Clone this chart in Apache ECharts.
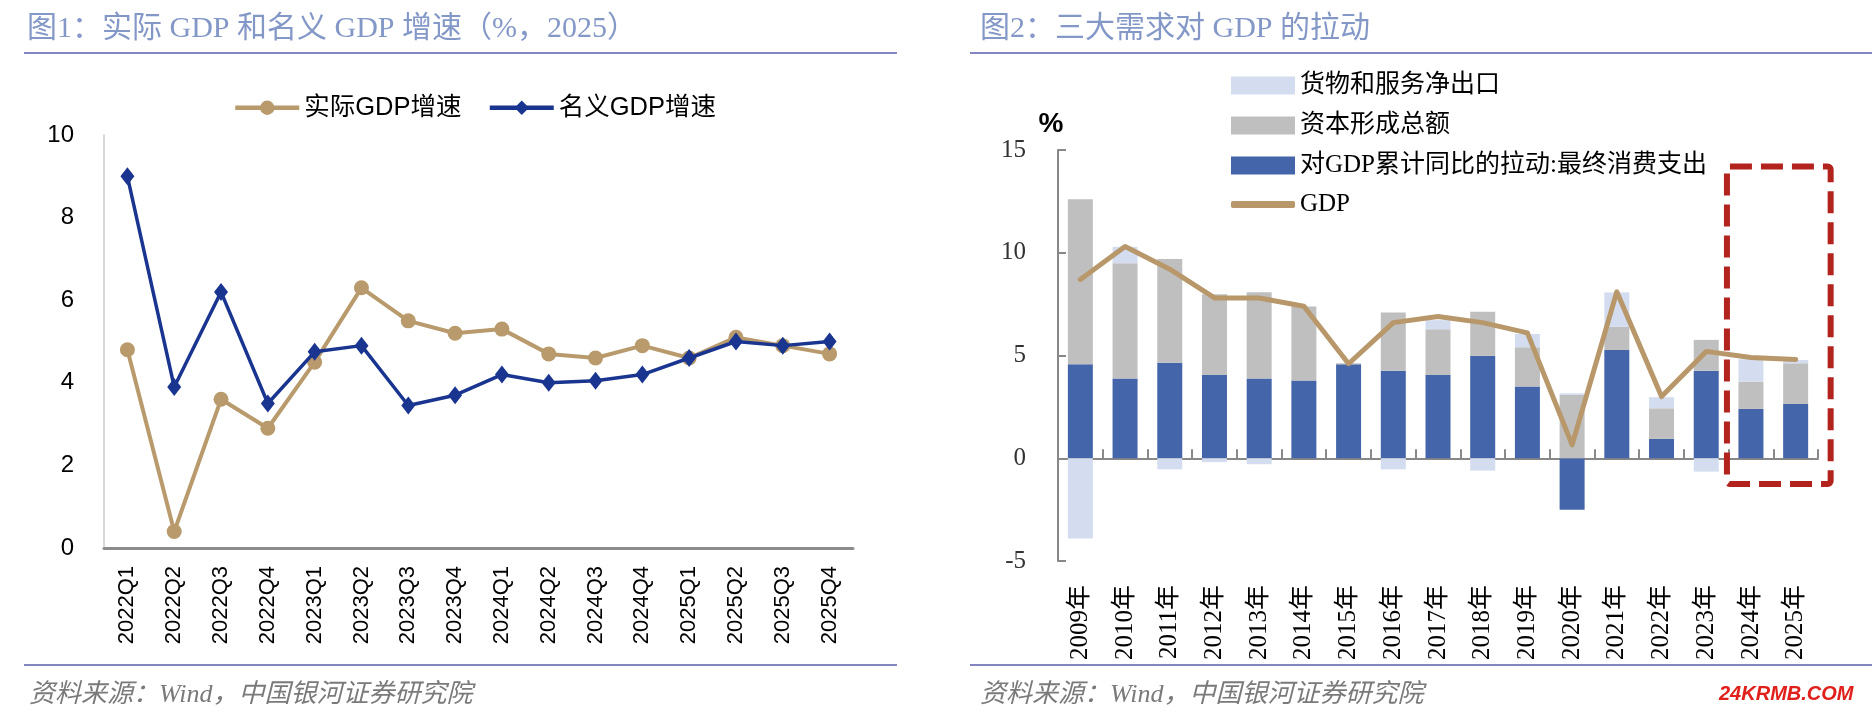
<!DOCTYPE html>
<html><head><meta charset="utf-8">
<script src="https://cdn.jsdelivr.net/npm/echarts@6/dist/echarts.min.js"></script>
<style>html,body{margin:0;padding:0;background:#fff}#c{width:1872px;height:722px}</style>
</head><body><div id="c"></div>
<script>
// ---- Figure 1 data ----
const quarters = ['2022Q1','2022Q2','2022Q3','2022Q4','2023Q1','2023Q2','2023Q3','2023Q4','2024Q1','2024Q2','2024Q3','2024Q4','2025Q1','2025Q2','2025Q3','2025Q4'];
const realGDP    = [4.8, 0.4, 3.6, 2.9, 4.5, 6.3, 5.5, 5.2, 5.3, 4.7, 4.6, 4.9, 4.6, 5.1, 4.9, 4.7];
const nominalGDP = [9.0, 3.9, 6.2, 3.5, 4.75, 4.9, 3.45, 3.7, 4.2, 4.0, 4.05, 4.2, 4.6, 5.0, 4.9, 5.0];

// ---- Figure 2 data ----
const years = ['2009年','2010年','2011年','2012年','2013年','2014年','2015年','2016年','2017年','2018年','2019年','2020年','2021年','2022年','2023年','2024年','2025年'];
const consumption = [4.57, 3.88, 4.65, 4.05, 3.88, 3.78, 4.57, 4.26, 4.05, 4.99, 3.49, -2.51, 5.27, 0.94, 4.26, 2.40, 2.64];
const capital     = [8.03, 5.61, 5.05, 3.93, 4.20, 3.60, 0.05, 2.83, 2.23, 2.14, 1.91, 3.08, 1.13, 1.49, 1.50, 1.33, 1.98];
const netExport   = [-3.9, 0.80, -0.54, -0.19, -0.29, 0.03, 0.0, -0.54, 0.44, -0.60, 0.65, 0.08, 1.67, 0.54, -0.65, 1.09, 0.16];
const gdp         = [8.7, 10.3, 9.2, 7.8, 7.8, 7.4, 4.6, 6.6, 6.9, 6.6, 6.1, 0.65, 8.1, 3.0, 5.2, 4.9, 4.8];

// highlight box (annotation) covering these categories and value range
const boxYears = ['2024年', '2025年'];
const boxRange = [14.2, -1.25];

const serif = "'Liberation Serif','Noto Sans CJK SC',serif";
const sans = "'Liberation Sans','Noto Sans CJK SC',sans-serif";
const TAN = '#B89A6C', NAVY = '#1A3590';

const chart = echarts.init(document.getElementById('c'), null, {renderer: 'canvas'});
const option = {
  backgroundColor: '#fff',
  animation: false,
  title: [
    {text: '图1：实际 GDP 和名义 GDP 增速（%，2025）', left: 22, top: 9,
     textStyle: {fontFamily: serif, fontSize: 30, fontWeight: 'normal', color: '#8498C8'}},
    {text: '图2：三大需求对 GDP 的拉动', left: 975, top: 9,
     textStyle: {fontFamily: serif, fontSize: 30, fontWeight: 'normal', color: '#8498C8'}},
    {text: '资料来源：Wind，中国银河证券研究院', left: 24, top: 677,
     textStyle: {fontFamily: serif, fontSize: 26, fontWeight: 'normal', fontStyle: 'italic', color: '#7A7A7A'}},
    {text: '资料来源：Wind，中国银河证券研究院', left: 975, top: 677,
     textStyle: {fontFamily: serif, fontSize: 26, fontWeight: 'normal', fontStyle: 'italic', color: '#7A7A7A'}}
  ],
  legend: [
    {data: ['实际GDP增速', '名义GDP增速'], left: 228, top: 90, orient: 'horizontal',
     itemWidth: 64, itemHeight: 18, itemGap: 26, lineStyle: {width: 4.5},
     textStyle: {fontFamily: sans, fontSize: 25.5, color: '#000'}},
    {data: [{name: '货物和服务净出口', icon: 'rect'}, {name: '资本形成总额', icon: 'rect'},
            {name: '对GDP累计同比的拉动:最终消费支出', icon: 'rect'}],
     left: 1226, top: 68, orient: 'vertical', itemWidth: 64, itemHeight: 18, itemGap: 15,
     textStyle: {fontFamily: serif, fontSize: 25, color: '#000'}},
    {data: [{name: 'GDP', icon: 'roundRect'}],
     left: 1226, top: 187, orient: 'vertical', itemWidth: 64, itemHeight: 7,
     textStyle: {fontFamily: serif, fontSize: 25, color: '#000'}}
  ],
  grid: [
    {left: 104, top: 135, width: 749, height: 413, containLabel: false},
    {left: 1058, top: 150, width: 760, height: 411, containLabel: false}
  ],
  xAxis: [
    {type: 'category', gridIndex: 0, data: quarters, boundaryGap: true,
     axisLine: {lineStyle: {color: '#8C8C8C', width: 3}}, axisTick: {show: false},
     axisLabel: {rotate: 90, margin: 18, fontFamily: sans, fontSize: 22, color: '#000'}},
    {type: 'category', gridIndex: 1, data: years, boundaryGap: true, position: 'bottom',
     axisLine: {show: false, onZero: false}, axisTick: {show: false},
     axisLabel: {rotate: 90, margin: 24, fontFamily: serif, fontSize: 25, color: '#000'}},
    {type: 'category', gridIndex: 1, data: years, boundaryGap: true, position: 'bottom',
     axisLine: {show: true, onZero: true, lineStyle: {color: '#888', width: 2}},
     axisTick: {show: true, inside: true, length: 9, interval: 0, lineStyle: {color: '#888', width: 2}},
     axisLabel: {show: false}}
  ],
  yAxis: [
    {type: 'value', gridIndex: 0, min: 0, max: 10, interval: 2,
     axisLine: {show: true, lineStyle: {color: '#D9D9D9', width: 2}}, axisTick: {show: false},
     splitLine: {show: false},
     axisLabel: {margin: 30, fontFamily: sans, fontSize: 24, color: '#000'}},
    {type: 'value', gridIndex: 1, min: -5, max: 15, interval: 5,
     name: '%', nameLocation: 'end', nameGap: 12,
     nameTextStyle: {fontFamily: sans, fontSize: 28, fontWeight: 'bold', color: '#000', padding: [0, 14, 0, 0]},
     axisLine: {show: true, lineStyle: {color: '#888', width: 2}},
     axisTick: {show: true, inside: true, length: 8, lineStyle: {color: '#888', width: 2}},
     splitLine: {show: false},
     axisLabel: {margin: 32, fontFamily: serif, fontSize: 25, color: '#333'}}
  ],
  series: [
    {name: '实际GDP增速', type: 'line', xAxisIndex: 0, yAxisIndex: 0, data: realGDP,
     symbol: 'circle', symbolSize: 15, lineStyle: {color: TAN, width: 4},
     itemStyle: {color: TAN}, z: 3},
    {name: '名义GDP增速', type: 'line', xAxisIndex: 0, yAxisIndex: 0, data: nominalGDP,
     symbol: 'diamond', symbolSize: [14, 18], lineStyle: {color: NAVY, width: 3.5},
     itemStyle: {color: NAVY}, z: 4},
    {name: '对GDP累计同比的拉动:最终消费支出', type: 'bar', stack: 'd', xAxisIndex: 2, yAxisIndex: 1,
     data: consumption, barWidth: 25, itemStyle: {color: '#4565AA'}},
    {name: '资本形成总额', type: 'bar', stack: 'd', xAxisIndex: 2, yAxisIndex: 1,
     data: capital, barWidth: 25, itemStyle: {color: '#BFBFBF'}},
    {name: '货物和服务净出口', type: 'bar', stack: 'd', xAxisIndex: 2, yAxisIndex: 1,
     data: netExport, barWidth: 25, itemStyle: {color: '#D3DDEF'}},
    {name: 'GDP', type: 'line', xAxisIndex: 2, yAxisIndex: 1, data: gdp,
     symbol: 'none', lineStyle: {color: '#B8986A', width: 5, cap: 'round', join: 'round'},
     itemStyle: {color: '#B8986A'}, z: 5}
  ]
};
chart.setOption(option);

// decorative rules, watermark, highlight box
const p0 = chart.convertToPixel({xAxisIndex: 2, yAxisIndex: 1}, [boxYears[0], boxRange[0]]);
const p1 = chart.convertToPixel({xAxisIndex: 2, yAxisIndex: 1}, [boxYears[1], boxRange[1]]);
const bx0 = p0[0] - 24, bx1 = p1[0] + 35;
const ruleColor = '#8585C2';
chart.setOption({
  graphic: [
    {type: 'line', shape: {x1: 24, y1: 53, x2: 897, y2: 53}, style: {stroke: ruleColor, lineWidth: 2}},
    {type: 'line', shape: {x1: 970, y1: 53, x2: 1872, y2: 53}, style: {stroke: ruleColor, lineWidth: 2}},
    {type: 'line', shape: {x1: 24, y1: 665, x2: 897, y2: 665}, style: {stroke: ruleColor, lineWidth: 2}},
    {type: 'line', shape: {x1: 970, y1: 665, x2: 1872, y2: 665}, style: {stroke: ruleColor, lineWidth: 2}},
    {type: 'rect', shape: {x: bx0, y: p0[1], width: bx1 - bx0, height: p1[1] - p0[1], r: 3},
     style: {fill: null, stroke: '#B3231E', lineWidth: 6, lineDash: [22, 9]}, z: 100},
    {type: 'text', left: 1719, top: 684,
     style: {text: '24KRMB.COM', fill: '#E0201A', font: 'italic bold 20px "Liberation Sans", sans-serif'}}
  ]
});
</script>
</body></html>
